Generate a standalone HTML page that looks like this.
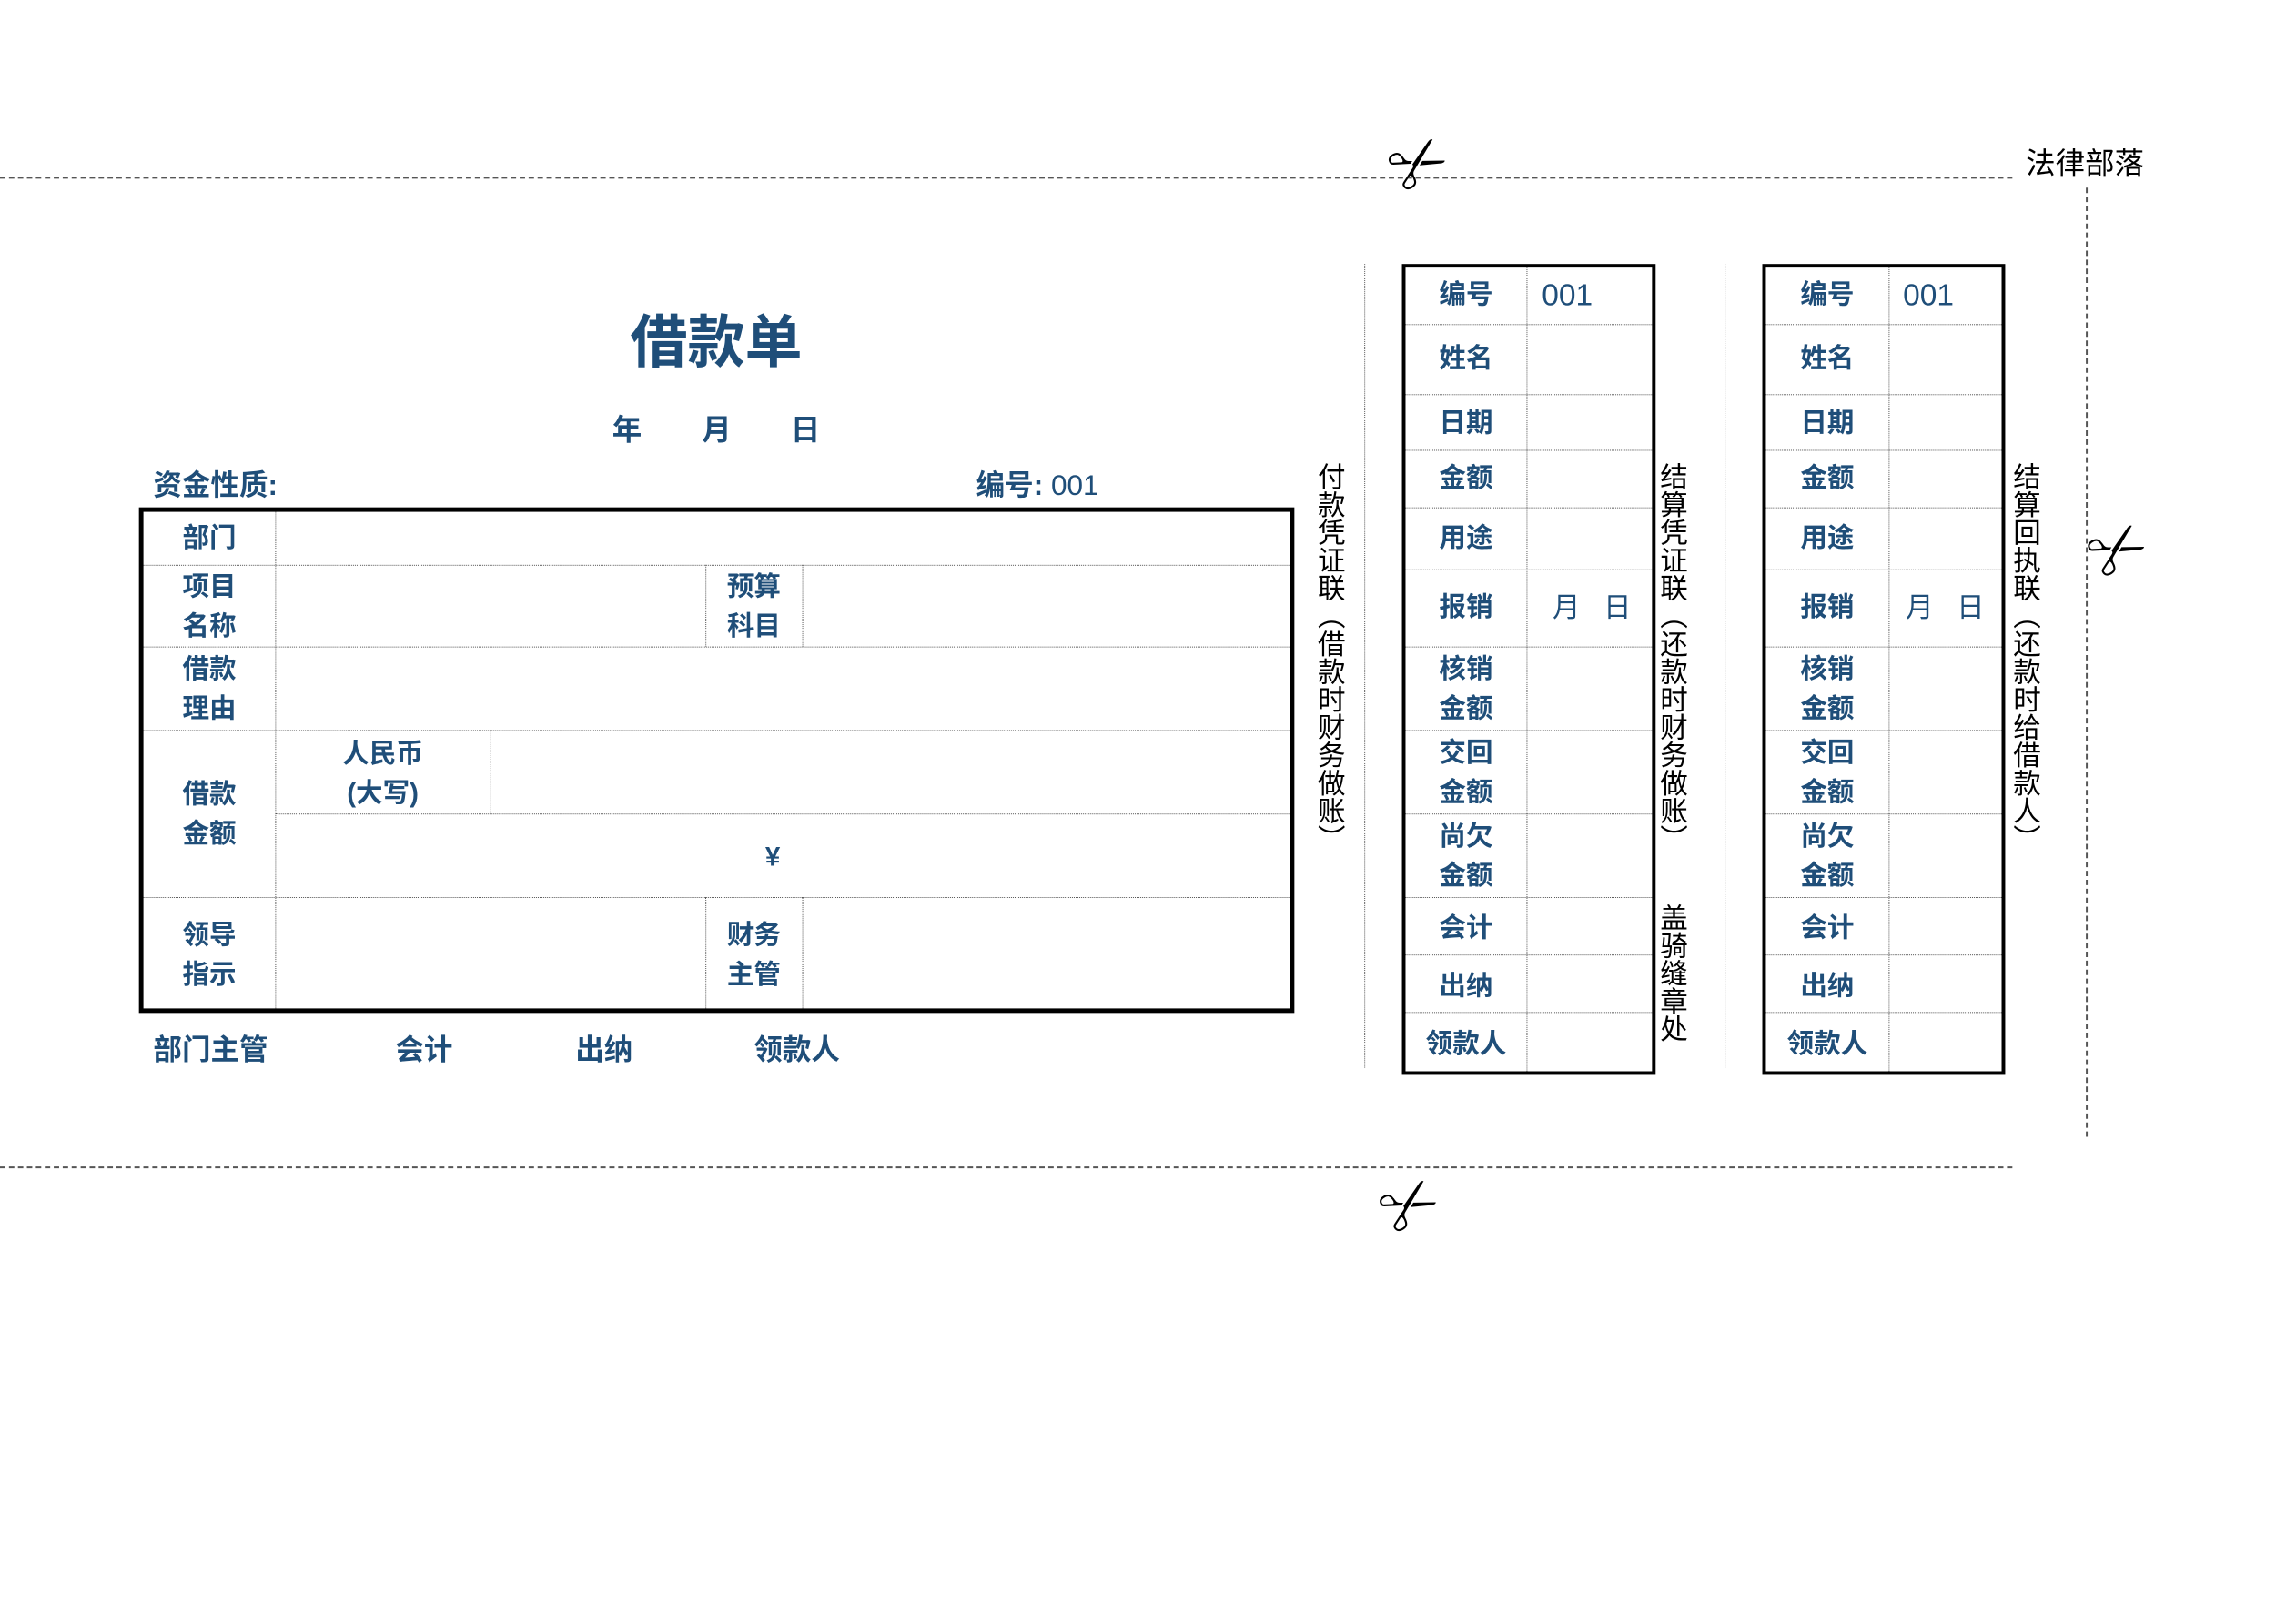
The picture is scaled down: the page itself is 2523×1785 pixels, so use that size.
<!DOCTYPE html>
<html><head><meta charset="utf-8"><style>
body{margin:0;width:2523px;height:1785px;background:#fff;position:relative;overflow:hidden;font-family:"Liberation Sans","Noto Sans CJK SC",sans-serif;color:#1f4e79}
#w{position:absolute;left:0;top:0;width:2523px;height:1785px;transform:scale(0.985,0.987);transform-origin:0 0}
.a{position:absolute}
.b{font-weight:bold}
.l{position:absolute;font-weight:bold;font-size:30px;line-height:44px;text-align:center;white-space:nowrap}
.hd{position:absolute;border-top:1px dotted #555}
.vd{position:absolute;border-left:1px dotted #555}
.vt{position:absolute;writing-mode:vertical-rl;font-size:31px;line-height:34px;color:#000;letter-spacing:0}
</style></head><body><div id="w">
<div class="a" style="left:0;top:197px;width:2245px;height:0;border-top:2px dashed #555"></div>
<div class="a" style="left:0;top:1299px;width:2245px;height:0;border-top:2px dashed #555"></div>
<div class="a" style="left:2327px;top:209px;height:1057px;border-left:2px dashed #555"></div>
<div class="a" style="left:1550px;top:135px;font-size:60px;color:#000;transform:rotate(-30deg)">✂</div>
<div class="a" style="left:1540px;top:1295px;font-size:60px;color:#000;transform:rotate(-30deg)">✂</div>
<div class="a" style="left:2330px;top:565px;font-size:60px;color:#000;transform:rotate(-30deg)">✂</div>
<div class="a" style="left:2260px;top:155px;font-size:33px;color:#000">法律部落</div>

<div class="a b" style="left:599px;width:400px;text-align:center;top:330px;font-size:64px">借款单</div>
<div class="a b" style="left:683px;top:452px;font-size:33px">年</div>
<div class="a b" style="left:783px;top:452px;font-size:33px">月</div>
<div class="a b" style="left:882px;top:452px;font-size:33px">日</div>
<div class="a b" style="left:171px;top:515px;font-size:32px">资金性质:</div>
<div class="a" style="left:1089px;top:515px;font-size:32px"><b>编号:</b> 001</div>

<div class="a" style="left:155px;top:565px;width:1279px;height:553px;border:5px solid #000"></div>
<div class="hd" style="left:160px;top:629px;width:1279px"></div>
<div class="hd" style="left:160px;top:720px;width:1279px"></div>
<div class="hd" style="left:160px;top:813px;width:1279px"></div>
<div class="hd" style="left:307px;top:906px;width:1132px"></div>
<div class="hd" style="left:160px;top:999px;width:1279px"></div>
<div class="vd" style="left:307px;top:570px;height:553px"></div>
<div class="vd" style="left:787px;top:629px;height:91px"></div>
<div class="vd" style="left:895px;top:629px;height:91px"></div>
<div class="vd" style="left:787px;top:999px;height:124px"></div>
<div class="vd" style="left:895px;top:999px;height:124px"></div>
<div class="vd" style="left:547px;top:813px;height:93px"></div>
<div class="l" style="left:160px;width:147px;top:578px">部门</div>
<div class="l" style="left:160px;width:147px;top:632px">项目<br>名称</div>
<div class="l" style="left:787px;width:108px;top:632px">预算<br>科目</div>
<div class="l" style="left:160px;width:147px;top:724px">借款<br>理由</div>
<div class="l" style="left:160px;width:147px;top:863px">借款<br>金额</div>
<div class="l" style="left:307px;width:240px;top:818px">人民币<br>(大写)</div>
<div class="l" style="left:807px;width:110px;top:933px">¥</div>
<div class="l" style="left:160px;width:147px;top:1020px">领导<br>指示</div>
<div class="l" style="left:787px;width:108px;top:1020px">财务<br>主管</div>
<div class="a b" style="left:171px;top:1144px;font-size:32px">部门主管</div>
<div class="a b" style="left:441px;top:1144px;font-size:32px">会计</div>
<div class="a b" style="left:642px;top:1144px;font-size:32px">出纳</div>
<div class="a b" style="left:841px;top:1144px;font-size:32px">领款人</div>

<div class="vt" style="left:1465px;top:515px">付款凭证联（借款时财务做账）</div>
<div class="vd" style="left:1522px;top:294px;height:895px"></div>

<div class="a" style="left:1564px;top:294px;width:275px;height:895px;border:4px solid #000"></div>
<div class="vd" style="left:1703px;top:298px;height:895px"></div>
<div class="hd" style="left:1568px;top:361px;width:275px"></div>
<div class="hd" style="left:1568px;top:439px;width:275px"></div>
<div class="hd" style="left:1568px;top:501px;width:275px"></div>
<div class="hd" style="left:1568px;top:565px;width:275px"></div>
<div class="hd" style="left:1568px;top:634px;width:275px"></div>
<div class="hd" style="left:1568px;top:720px;width:275px"></div>
<div class="hd" style="left:1568px;top:813px;width:275px"></div>
<div class="hd" style="left:1568px;top:906px;width:275px"></div>
<div class="hd" style="left:1568px;top:999px;width:275px"></div>
<div class="hd" style="left:1568px;top:1063px;width:275px"></div>
<div class="hd" style="left:1568px;top:1127px;width:275px"></div>
<div class="l" style="left:1568px;width:135px;top:307px">编号</div>
<div class="a" style="left:1720px;top:307px;font-size:34px;line-height:44px">001</div>
<div class="l" style="left:1568px;width:135px;top:378px">姓名</div>
<div class="l" style="left:1568px;width:135px;top:450px">日期</div>
<div class="l" style="left:1568px;width:135px;top:511px">金额</div>
<div class="l" style="left:1568px;width:135px;top:578px">用途</div>
<div class="l" style="left:1568px;width:135px;top:655px">报销</div>
<div class="a" style="left:1732px;top:655px;font-size:31px;line-height:44px">月&nbsp;&nbsp;&nbsp;日</div>
<div class="l" style="left:1568px;width:135px;top:724px">核销<br>金额</div>
<div class="l" style="left:1568px;width:135px;top:817px">交回<br>金额</div>
<div class="l" style="left:1568px;width:135px;top:910px">尚欠<br>金额</div>
<div class="l" style="left:1568px;width:135px;top:1012px">会计</div>
<div class="l" style="left:1568px;width:135px;top:1077px">出纳</div>
<div class="l" style="left:1568px;width:135px;top:1141px">领款人</div>

<div class="vt" style="left:1847px;top:515px">结算凭证联（还款时财务做账）</div>
<div class="vt" style="left:1847px;top:1006px">盖骑缝章处</div>
<div class="vd" style="left:1924px;top:294px;height:895px"></div>

<div class="a" style="left:1966px;top:294px;width:263px;height:895px;border:4px solid #000"></div>
<div class="vd" style="left:2107px;top:298px;height:895px"></div>
<div class="hd" style="left:1970px;top:361px;width:263px"></div>
<div class="hd" style="left:1970px;top:439px;width:263px"></div>
<div class="hd" style="left:1970px;top:501px;width:263px"></div>
<div class="hd" style="left:1970px;top:565px;width:263px"></div>
<div class="hd" style="left:1970px;top:634px;width:263px"></div>
<div class="hd" style="left:1970px;top:720px;width:263px"></div>
<div class="hd" style="left:1970px;top:813px;width:263px"></div>
<div class="hd" style="left:1970px;top:906px;width:263px"></div>
<div class="hd" style="left:1970px;top:999px;width:263px"></div>
<div class="hd" style="left:1970px;top:1063px;width:263px"></div>
<div class="hd" style="left:1970px;top:1127px;width:263px"></div>
<div class="l" style="left:1970px;width:137px;top:307px">编号</div>
<div class="a" style="left:2123px;top:307px;font-size:34px;line-height:44px">001</div>
<div class="l" style="left:1970px;width:137px;top:378px">姓名</div>
<div class="l" style="left:1970px;width:137px;top:450px">日期</div>
<div class="l" style="left:1970px;width:137px;top:511px">金额</div>
<div class="l" style="left:1970px;width:137px;top:578px">用途</div>
<div class="l" style="left:1970px;width:137px;top:655px">报销</div>
<div class="a" style="left:2126px;top:655px;font-size:31px;line-height:44px">月&nbsp;&nbsp;&nbsp;日</div>
<div class="l" style="left:1970px;width:137px;top:724px">核销<br>金额</div>
<div class="l" style="left:1970px;width:137px;top:817px">交回<br>金额</div>
<div class="l" style="left:1970px;width:137px;top:910px">尚欠<br>金额</div>
<div class="l" style="left:1970px;width:137px;top:1012px">会计</div>
<div class="l" style="left:1970px;width:137px;top:1077px">出纳</div>
<div class="l" style="left:1970px;width:137px;top:1141px">领款人</div>

<div class="vt" style="left:2241px;top:515px">结算回执联（还款时给借款人）</div>
</div></body></html>
